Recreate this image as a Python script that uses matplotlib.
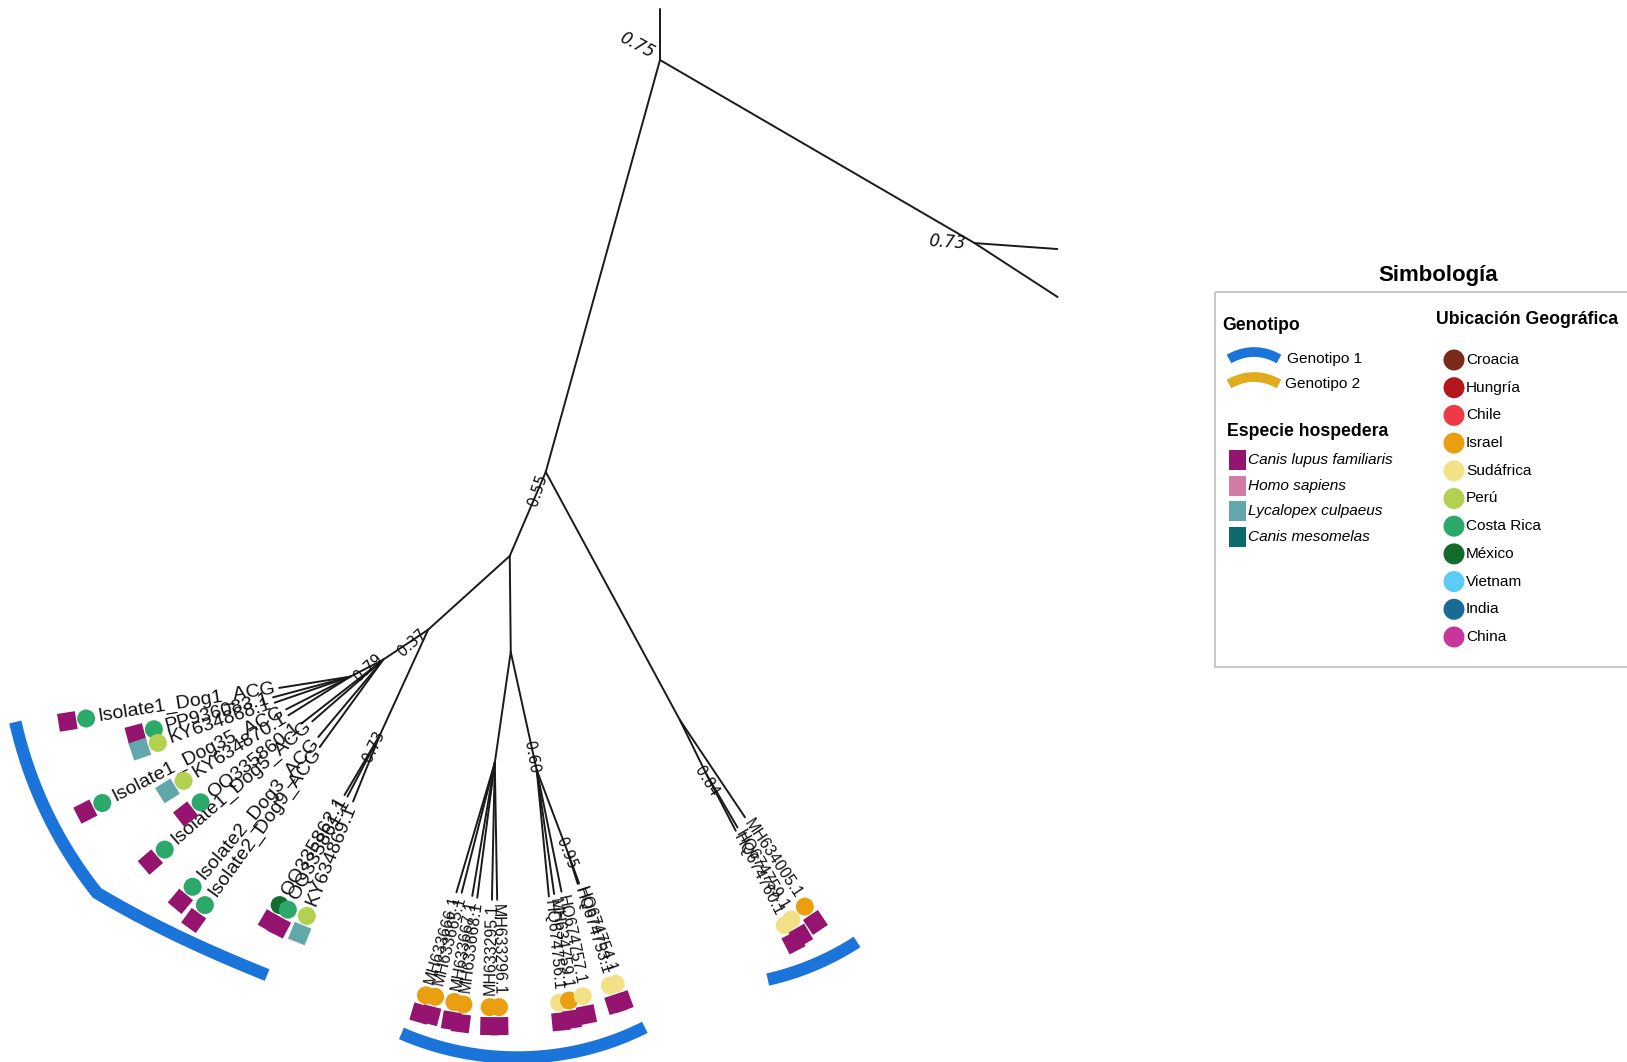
import math
import numpy as np
import matplotlib
matplotlib.use("Agg")
import matplotlib.pyplot as plt
from matplotlib import font_manager
from matplotlib.font_manager import FontProperties
from matplotlib.patches import Circle, Rectangle

# branches of the unrooted layout: parent, child, length [px], direction [deg]
br_parent = ["A", "A", "B", "B", "A", "C", "C", "R", "R", "Rp", "Rp",
             "D", "D", "E", "O", "O", "O", "E", "G",
             "H", "H", "H", "H", "H", "G", "G", "G", "G",
             "F", "I", "I", "I", "I", "I", "I",
             "F", "J", "J", "J", "J", "K", "K"]
br_child = ["top", "B", "b1", "b2", "C", "D", "R", "MH634005.1", "Rp", "HQ674759.1", "HQ674760.1",
            "E", "F", "O", "OQ335862.1", "OQ335861.1", "KY634869.1", "G", "H",
            "Isolate1_Dog1_ACG", "PP936083.1", "KY634868.1", "Isolate1_Dog35_ACG", "KY634870.1",
            "OQ335860.1", "Isolate1_Dog5_ACG", "Isolate2_Dog3_ACG", "Isolate2_Dog9_ACG",
            "I", "MH633666.1", "MH633665.1", "MH633667.1", "MH633668.1", "MH633295.1", "MH633296.1",
            "J", "HQ674756.1", "MH634759.1", "HQ674757.1", "K", "HQ674753.1", "HQ674754.1"]
br_len = [51, 364, 83, 99, 427.5, 91.4, 282, 117, 61, 61, 63,
          110, 96, 115.5, 70, 70, 72, 54, 37,
          72, 80, 80, 72, 73, 104, 94, 101, 108,
          112, 135, 134, 135, 136, 137, 137,
          121, 127, 125, 124, 88, 33, 33]
br_ang = [90, -30.2, -4.1, -33.0, -105.5, -113.2, -61.6, -56.2, -63.9, -59.7, -62.6,
          -137.9, -89.4, -114.6, -120.5, -117.8, -112, -146.3, -152.7,
          -171, -165, -161, -153, -148, -142, -139, -130, -126,
          -98.2, -106.5, -104.3, -99.6, -97.4, -91.2, -89,
          -77.6, -84.5, -82, -78.5, -69.3, -72.5, -70]

leaf_names = ["Isolate1_Dog1_ACG", "PP936083.1", "KY634868.1", "Isolate1_Dog35_ACG", "KY634870.1",
              "OQ335860.1", "Isolate1_Dog5_ACG", "Isolate2_Dog3_ACG", "Isolate2_Dog9_ACG",
              "OQ335862.1", "OQ335861.1", "KY634869.1",
              "MH633666.1", "MH633665.1", "MH633667.1", "MH633668.1", "MH633295.1", "MH633296.1",
              "HQ674756.1", "MH634759.1", "HQ674757.1", "HQ674753.1", "HQ674754.1",
              "MH634005.1", "HQ674759.1", "HQ674760.1"]
leaf_host = ["clf", "clf", "lc", "clf", "lc",
             "clf", "clf", "clf", "clf",
             "clf", "clf", "lc",
             "clf", "clf", "clf", "clf", "clf", "clf",
             "clf", "clf", "clf", "clf", "clf",
             "clf", "clf", "clf"]
leaf_country = ["Costa Rica", "Costa Rica", "Perú", "Costa Rica", "Perú",
                "Costa Rica", "Costa Rica", "Costa Rica", "Costa Rica",
                "México", "Costa Rica", "Perú",
                "Israel", "Israel", "Israel", "Israel", "Israel", "Israel",
                "Sudáfrica", "Israel", "Sudáfrica", "Sudáfrica", "Sudáfrica",
                "Israel", "Sudáfrica", "Sudáfrica"]

support_node = ["A", "B", "C", "E", "G", "O", "J", "K", "Rp"]
support_val = [0.75, 0.73, 0.55, 0.37, 0.79, 0.73, 0.60, 0.95, 0.84]

host_keys = ["clf", "hs", "lc", "cm"]
host_names = ["Canis lupus familiaris", "Homo sapiens", "Lycalopex culpaeus", "Canis mesomelas"]
host_colors = ["#941470", "#d17ba8", "#62a7ab", "#0d6a6b"]

country_names = ["Croacia", "Hungría", "Chile", "Israel", "Sudáfrica", "Perú",
                 "Costa Rica", "México", "Vietnam", "India", "China"]
country_colors = ["#7a2b1b", "#b5161c", "#ee3a44", "#e99f10", "#f2e186", "#b3d150",
                  "#2ca86a", "#136b2c", "#5ccbf5", "#1a6a96", "#c8369b"]

genotype_names = ["Genotipo 1", "Genotipo 2"]
genotype_colors = ["#1b74d9", "#e0ab1d"]

# genotype bands, each a list of pieces: centre node, r start, r end, angle start, angle end, sag
geno_arcs = [[("E", 423, 423, -167.4, -141.5, 0), ("E", 423, 381, -141.5, -115.0, 8)],
             [("J", 296, 279, -117.2, -67.2, 0)],
             [("R", 274, 284, -71.3, -51.4, 0)]]

# label placement for support values: dx, dy, rotation, size, style
support_style = {"A": (-23, -15, -28, 12, "italic"), "B": (-28, -1, -4, 12, "italic"),
                 "C": (-8, 18, 72, 10.5, "normal"), "E": (-16, 13, 42, 10.5, "normal"),
                 "G": (-15, 8, 42, 10.5, "normal"), "O": (-6, 12, 65, 10.5, "normal"),
                 "J": (-5, -13, -80, 10.5, "normal"), "K": (-2, 1, -68, 10.5, "normal"),
                 "Rp": (0, 7, -58, 10.5, "normal")}

W, H = 1627, 1062
fig = plt.figure(figsize=(W/100, H/100), dpi=100)
ax = fig.add_axes([0, 0, 1, 1])
ax.set_xlim(0, W)
ax.set_ylim(H, 0)
ax.axis("off")

fnames = {f.name for f in font_manager.fontManager.ttflist}
if "Liberation Sans Narrow" in fnames:
    narrow, nsc = "Liberation Sans Narrow", 1.0
else:
    narrow, nsc = "Liberation Sans", 0.82

pos = {"A": (660.0, 60.0)}
ang_of = {}
parent_of = {}
for p, c, l, a in zip(br_parent, br_child, br_len, br_ang):
    x0, y0 = pos[p]
    t = math.radians(a)
    pos[c] = (x0 + l*math.cos(t), y0 - l*math.sin(t))
    ang_of[c] = a
    parent_of[c] = p
    ax.plot([x0, pos[c][0]], [y0, pos[c][1]], color="#1a1a1a", lw=1.4,
            solid_capstyle="round", zorder=1)

for n, v in zip(support_node, support_val):
    dx, dy, rot, sz, st = support_style[n]
    ax.text(pos[n][0]+dx, pos[n][1]+dy, "{:0.2f}".format(v), rotation=rot,
            rotation_mode="anchor", ha="center", va="center", fontsize=sz,
            style=st, family="DejaVu Sans", color="#111111", zorder=3)

renderer = fig.canvas.get_renderer()
hcol = dict(zip(host_keys, host_colors))
ccol = dict(zip(country_names, country_colors))
fp_wide = FontProperties(family="Liberation Sans", size=14)
fp_narrow = FontProperties(family=narrow, size=14.5 if nsc == 1.0 else 11.5)

for name, host, country in zip(leaf_names, leaf_host, leaf_country):
    x, y = pos[name]
    a = ang_of[name]
    ux, uy = math.cos(math.radians(a)), -math.sin(math.radians(a))
    flip = ux < 0
    rot = a + 180 if flip else a
    fp = fp_narrow if parent_of[name] in ("I", "J", "K", "R", "Rp") else fp_wide
    ax.text(x + 4*ux, y + 4*uy, name, rotation=rot, rotation_mode="anchor",
            ha="right" if flip else "left", va="center", fontproperties=fp,
            color="#111111", zorder=3)
    w = renderer.get_text_width_height_descent(name, fp, ismath=False)[0]
    d = 4 + w + 12
    ax.add_patch(Circle((x + d*ux, y + d*uy), 9, color=ccol[country], lw=0, zorder=4))
    d += 19
    ax.add_patch(Rectangle((x + d*ux - 9, y + d*uy - 9), 18, 18, angle=-rot,
                           rotation_point="center", color=hcol[host], lw=0, zorder=5))

for band in geno_arcs:
    xs, ys = [], []
    for node, r0, r1, a0, a1, sag in band:
        cx, cy = pos[node]
        t = np.linspace(0, 1, 80)
        aa = np.radians(a0 + (a1 - a0)*t)
        rr = r0 + (r1 - r0)*t - sag*4*t*(1 - t)
        xs.extend(cx + rr*np.cos(aa))
        ys.extend(cy - rr*np.sin(aa))
    ax.plot(xs, ys, color=genotype_colors[0], lw=9, solid_capstyle="butt",
            solid_joinstyle="miter", zorder=2)

# legend
ax.add_patch(Rectangle((1215, 292), 430, 375, fill=False, edgecolor="#c4c4c4", lw=1.3))
ax.text(1438, 276, "Simbología", ha="center", va="center", family=narrow,
        weight="bold", size=19.5*nsc)
ax.text(1222, 326, "Genotipo", ha="left", va="center", family=narrow,
        weight="bold", size=15.5*nsc)
for i, (g, c) in enumerate(zip(genotype_names, genotype_colors)):
    yc = 359 + 25*i
    t = np.linspace(-1, 1, 40)
    ax.plot(1254 + 25*t, yc - 7*(1 - t**2), color=c, lw=7, solid_capstyle="butt")
    ax.text(1287 - 2*i, yc, g, ha="left", va="center", family=narrow, size=13.5*nsc)

ax.text(1227, 432, "Especie hospedera", ha="left", va="center", family=narrow,
        weight="bold", size=15.5*nsc)
for i, (h, c) in enumerate(zip(host_names, host_colors)):
    yc = 460 + 25.7*i
    ax.add_patch(Rectangle((1229, yc - 10), 17, 20, color=c, lw=0))
    ax.text(1248, yc, h, ha="left", va="center", family=narrow, style="italic",
            size=13.5*nsc)

ax.text(1436, 320, "Ubicación Geográfica", ha="left", va="center", family=narrow,
        weight="bold", size=15.5*nsc)
for i, (n, c) in enumerate(zip(country_names, country_colors)):
    yc = 360 + 27.7*i
    ax.add_patch(Circle((1454, yc), 10.5, color=c, lw=0))
    ax.text(1466, yc, n, ha="left", va="center", family=narrow, size=13.5*nsc)

fig.savefig("out.png", dpi=100)
